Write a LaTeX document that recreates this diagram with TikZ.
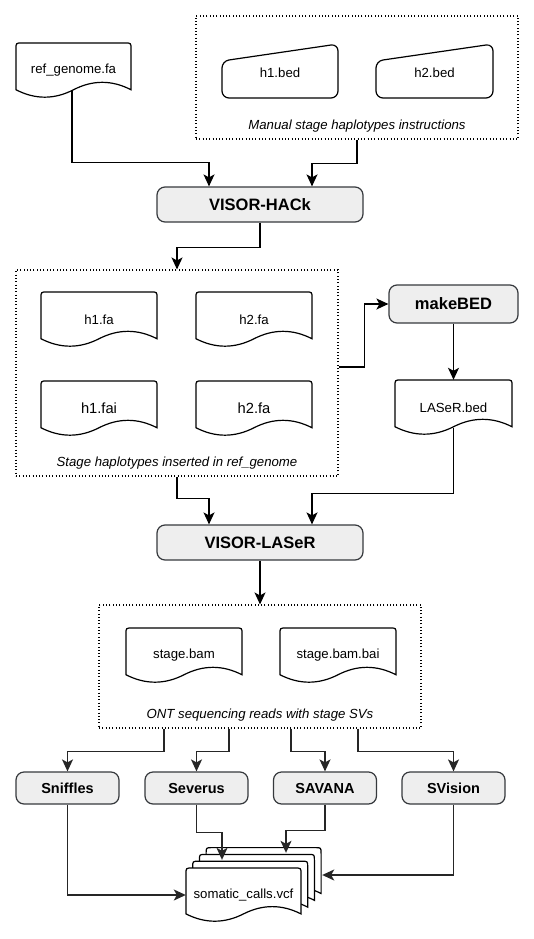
\documentclass[tikz,border=0pt]{standalone}
\usepackage{fontspec}
\setmainfont{Liberation Sans}
\usetikzlibrary{arrows.meta,calc}

\definecolor{procfill}{HTML}{EEEEEE}
\definecolor{procline}{HTML}{36393D}
\definecolor{edgedark}{HTML}{262626}

\tikzset{
  proc/.style={draw=procline, fill=procfill, rounded corners=8pt, line width=1.2pt,
    font=\fontsize{16.5}{18}\selectfont\bfseries, inner sep=0pt},
  tool/.style={proc, font=\fontsize{14.5}{16}\selectfont\bfseries, minimum width=103pt, minimum height=32pt},
  docline/.style={draw=black, fill=white, line width=1.2pt},
  doctext/.style={inner sep=0pt, font=\fontsize{13.2}{15}\selectfont},
  container/.style={draw=black, line width=1.1pt, dash pattern=on 1pt off 2.3pt, inner sep=0pt},
  contlabel/.style={font=\fontsize{13.2}{15}\selectfont\itshape, inner sep=0pt},
  arr/.style={line width=1.3pt, -{Stealth[length=12pt,width=11pt,inset=3pt]}},
  arrd/.style={arr, draw=edgedark},
}

% document shape: x0 y0 w h
\newcommand\docshape[4]{%
  \draw[docline] (#1,#2+0.85*#4) -- (#1,#2+6) .. controls (#1,#2) .. (#1+6,#2)
    -- (#1+#3-6,#2) .. controls (#1+#3,#2) .. (#1+#3,#2+6)
    -- (#1+#3,#2+0.85*#4)
    .. controls (#1+5*#3/6,#2+0.67*#4) and (#1+2*#3/3,#2+0.67*#4) .. (#1+#3/2,#2+0.85*#4)
    .. controls (#1+#3/3,#2+1.03*#4) and (#1+#3/6,#2+1.03*#4) .. (#1,#2+0.85*#4) -- cycle;
}
% name x0 y0 w h text size
\newcommand\docnode[7]{%
  \docshape{#2}{#3}{#4}{#5}
  \node[doctext, font=\fontsize{#7}{#7}\selectfont, minimum width=#4pt, minimum height=#5pt]
    (#1) at (#2+#4/2,#3+#5/2) {#6};
}
% manual input: name x0 y0 w h text
\newcommand\manualnode[6]{%
  \draw[docline, rounded corners=7pt] (#2,#3+17) -- (#2+#4,#3) -- (#2+#4,#3+#5) -- (#2,#3+#5) -- cycle;
  \node[doctext, minimum width=#4pt, minimum height=#5pt] (#1) at (#2+#4/2,#3+#5/2+2) {#6};
}

\begin{document}
\begin{tikzpicture}[x=1pt,y=-1pt]
\useasboundingbox (0,0) rectangle (534,939);

% ---------- top ----------
\docnode{ref}{16}{43}{115}{55}{ref\_genome.fa}{13.2}

\node[container, minimum width=322pt, minimum height=123pt] (cont1) at (357,77.5) {};
\manualnode{h1bed}{222}{44}{116}{54}{h1.bed}
\manualnode{h2bed}{376}{44}{117}{54}{h2.bed}
\node[contlabel] (lab1) at (357,126) {Manual stage haplotypes instructions};

\node[proc, minimum width=206pt, minimum height=35pt] (hack) at (260,204.5) {VISOR-HACk};

% ---------- middle ----------
\node[container, minimum width=322pt, minimum height=206pt] (cont2) at (177,373) {};
\docnode{h1fa}{41}{292}{116}{55}{h1.fa}{13.2}
\docnode{h2fa}{196}{292}{116}{55}{h2.fa}{13.2}
\docnode{h1fai}{41}{381}{116}{55}{h1.fai}{14.7}
\docnode{h2fab}{196}{381}{116}{55}{h2.fa}{14.7}
\node[contlabel] (lab2) at (177,463) {Stage haplotypes inserted in ref\_genome};

\node[proc, minimum width=129pt, minimum height=38pt] (makebed) at (453.5,304) {makeBED};
\docnode{laser}{395}{380}{117}{55}{LASeR.bed}{13.2}

\node[proc, minimum width=206pt, minimum height=35pt] (lasr) at (260,542.5) {VISOR-LASeR};

% ---------- lower ----------
\node[container, minimum width=322pt, minimum height=123pt] (cont3) at (260,666.5) {};
\docnode{bam}{126}{628}{116}{55}{stage.bam}{13.2}
\docnode{bai}{280}{628}{116}{55}{\raisebox{2pt}{stage.bam.bai}}{13.2}
\node[contlabel] (lab3) at (260,715) {ONT sequencing reads with stage SVs};

\node[tool] (sniffles) at (67.5,788) {Sniffles};
\node[tool] (severus) at (196.5,788) {Severus};
\node[tool] (savana) at (325,788) {SAVANA};
\node[tool] (svision) at (453.5,788) {SVision};

% multi-document
\docshape{206.1}{847.6}{115}{54}
\docshape{199.4}{854.4}{115}{54}
\docshape{192.7}{861.2}{115}{54}
\docnode{vcf}{186}{868}{115}{54}{somatic\_calls.vcf}{13.2}

% ---------- connectors ----------
\draw[arr] ($(ref.center)+(-1.5,20)$) |- ($(hack.north)+(-51,-24)$) -- ($(hack.north)+(-51,0)$);
\draw[arr] (cont1.south) -- ++(0,24) -| ($(hack.north)+(52,0)$);
\draw[arr] (hack.south) -- ++(0,25) -| (cont2.north);
\draw[arr] ([yshift=6pt]cont2.east) -- ++(26,0) |- (makebed.west);
\draw[arr] (makebed.south) -- (laser.north);
\draw[arr] ($(laser.center)+(0,20)$) |- ($(lasr.north)+(52,-31)$) -- ($(lasr.north)+(52,0)$);
\draw[arr] (cont2.south) -- ++(0,22) -| ($(lasr.north)+(-51,0)$);
\draw[arr] (lasr.south) -- (cont3.north);
\draw[arrd] ($(cont3.south)+(-96,0)$) -- ++(0,23) -| (sniffles.north);
\draw[arrd] ($(cont3.south)+(-31,0)$) -- ++(0,23) -| (severus.north);
\draw[arrd] ($(cont3.south)+(31,0)$) -- ++(0,23) -| (savana.north);
\draw[arrd] ($(cont3.south)+(98,0)$) -- ++(0,23) -| (svision.north);
\draw[arrd] (sniffles.south) |- (vcf.west);
\draw[arrd] (severus.south) -- ++(0,28) -| ($(vcf.north)+(-21.5,-8)$);
\draw[arrd] (savana.south) -- ++(0,26) -| ($(vcf.north)+(42.5,-15)$);
\draw[arrd] (svision.south) |- ($(vcf.east)+(21,-20)$);
\end{tikzpicture}
\end{document}
